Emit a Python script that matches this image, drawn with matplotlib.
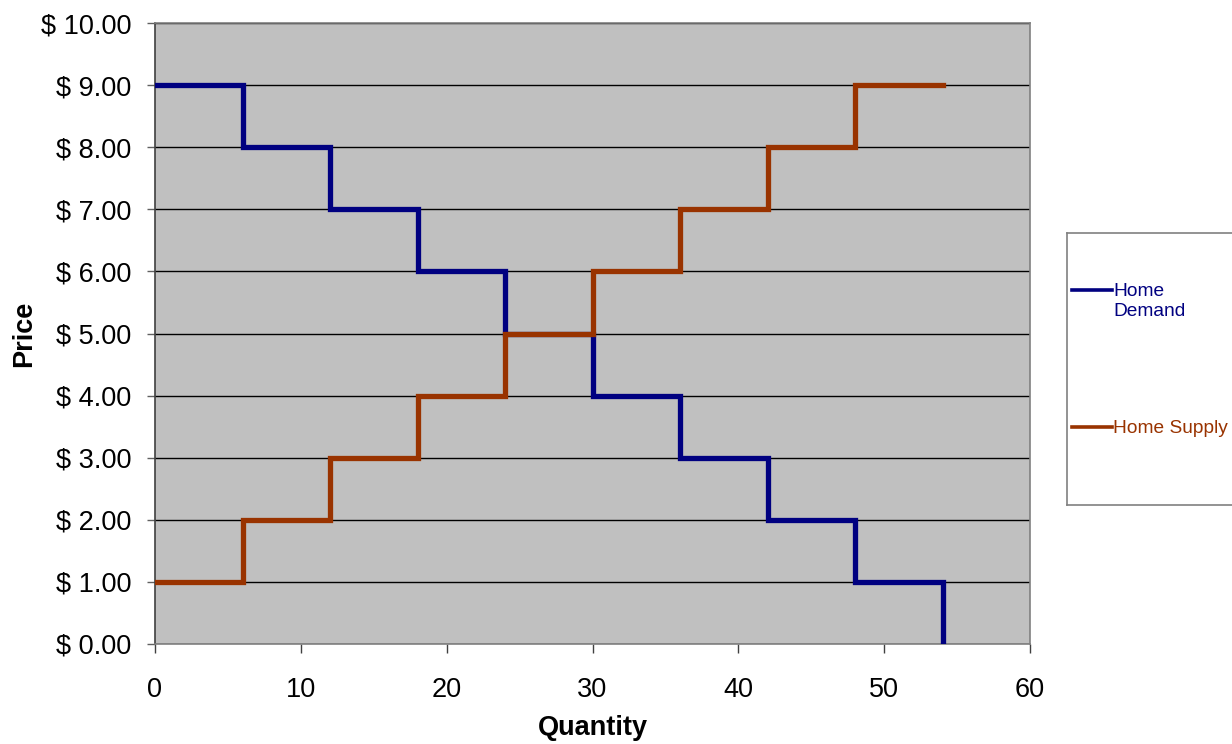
import matplotlib
matplotlib.use("Agg")
import matplotlib.pyplot as plt
from matplotlib.ticker import FuncFormatter

plt.rcParams['font.family'] = ['Liberation Sans', 'DejaVu Sans']

demand_q = [0, 6, 12, 18, 24, 30, 36, 42, 48, 54]
demand_p = [9, 8, 7, 6, 5, 4, 3, 2, 1, 0]
supply_q = [0, 6, 12, 18, 24, 30, 36, 42, 48, 54]
supply_p = [1, 2, 3, 4, 5, 6, 7, 8, 9, 9]
x_ticks = [0, 10, 20, 30, 40, 50, 60]
y_ticks = [0, 1, 2, 3, 4, 5, 6, 7, 8, 9, 10]
labels = ["Home\nDemand", "Home Supply"]
colors = ["#000080", "#993300"]

W, H = 1232, 744
fig = plt.figure(figsize=(W/100, H/100), dpi=100)
ax = fig.add_axes([155/W, (H-644)/H, 875/W, 621/H])
ax.set_facecolor("#C0C0C0")
ax.plot(demand_q, demand_p, drawstyle="steps-post", color=colors[0], lw=3.8, solid_joinstyle="miter", zorder=3)
ax.plot(supply_q, supply_p, drawstyle="steps-post", color=colors[1], lw=3.8, solid_joinstyle="miter", zorder=4)
ax.set_xlim(0, 60)
ax.set_ylim(0, 10)
ax.set_xticks(x_ticks)
ax.set_yticks(y_ticks)
ax.yaxis.set_major_formatter(FuncFormatter(lambda v, p: f"$ {v:.2f}"))
ax.grid(axis="y", color="black", lw=1)
ax.set_axisbelow(True)
for s in ax.spines.values():
    s.set_color("#808080")
    s.set_linewidth(1.2)
ax.spines["left"].set_color("#404040")
ax.tick_params(axis="y", direction="out", length=5.8, width=1, color="#606060", labelsize=19.5, pad=11)
ax.tick_params(axis="x", direction="out", length=6.5, width=1, color="#404040", labelsize=19.5, pad=17)
ax.set_ylabel("Price", fontsize=19.5, fontweight="bold", labelpad=3)
ax.set_xlabel("Quantity", fontsize=19.5, fontweight="bold", labelpad=9)

# legend box
lx0, ly0, lx1, ly1 = 1067, 233, 1240, 505
lax = fig.add_axes([lx0/W, (H-ly1)/H, (lx1-lx0)/W, (ly1-ly0)/H])
lax.set_xlim(lx0, lx1)
lax.set_ylim(ly1, ly0)
lax.set_xticks([])
lax.set_yticks([])
for s in lax.spines.values():
    s.set_color("#808080")
    s.set_linewidth(1.2)
for lab, col, yy in zip(labels, colors, [290, 427]):
    lax.plot([1072, 1112], [yy, yy], color=col, lw=2.6)
    lax.text(1113, yy - 7, lab, color=col, fontsize=13.8, va="top", ha="left", linespacing=1.26)

fig.savefig("out.png", dpi=100)
